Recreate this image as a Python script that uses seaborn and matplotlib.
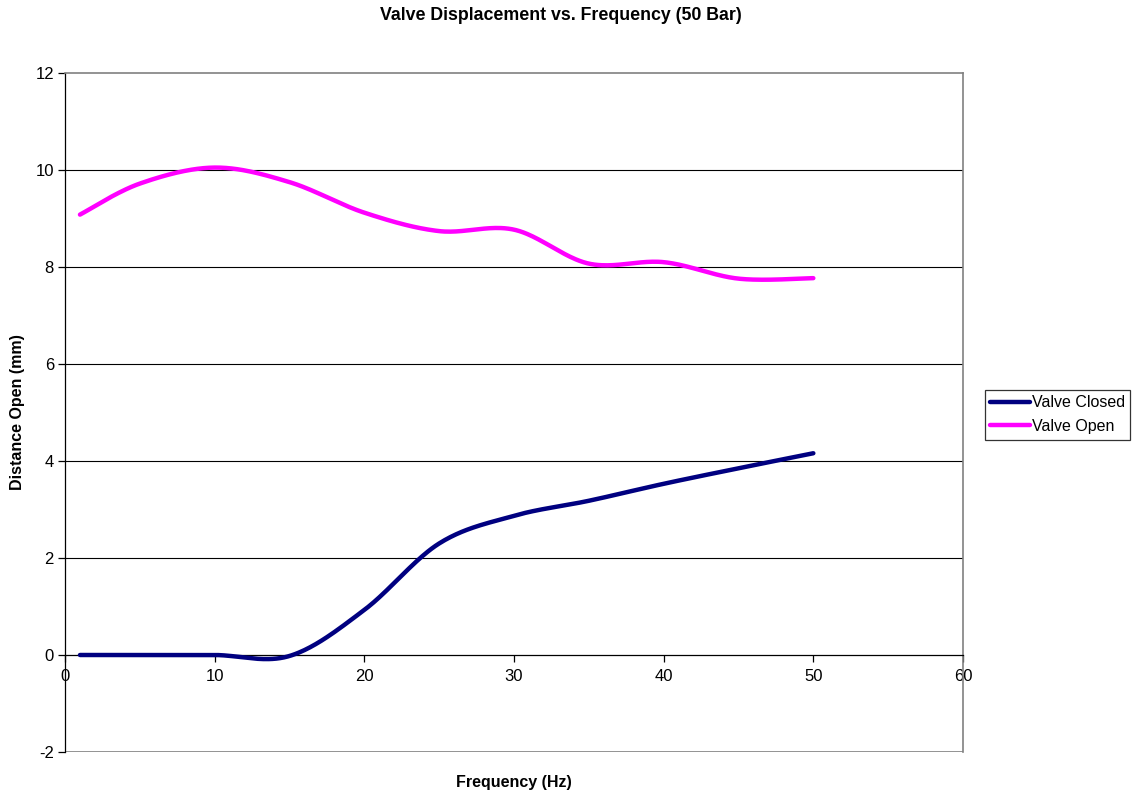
import numpy as np
import pandas as pd
import matplotlib
matplotlib.use("Agg")
import matplotlib.pyplot as plt
import seaborn as sns

freq = [1, 5, 10, 15, 20, 25, 30, 35, 40, 45, 50]
valve_closed = [0.0, 0.0, 0.0, -0.02, 0.93, 2.30, 2.87, 3.18, 3.53, 3.85, 4.16]
valve_open = [9.08, 9.72, 10.05, 9.75, 9.12, 8.74, 8.77, 8.07, 8.10, 7.76, 7.77]
series_names = ["Valve Closed", "Valve Open"]
colors = ["#000080", "#FF00FF"]
x_ticks = [0, 10, 20, 30, 40, 50, 60]
y_ticks = [-2, 0, 2, 4, 6, 8, 10, 12]


def smooth(xs, ys, n=40):
    # Catmull-Rom style smoothing like spreadsheet "smoothed line"
    xs = np.asarray(xs, float); ys = np.asarray(ys, float)
    P = np.column_stack([xs, ys])
    P = np.vstack([P[0], P, P[-1]])
    out = []
    for i in range(1, len(P) - 2):
        p0, p1, p2, p3 = P[i - 1], P[i], P[i + 1], P[i + 2]
        c1 = p1 + (p2 - p0) / 6.0
        c2 = p2 - (p3 - p1) / 6.0
        t = np.linspace(0, 1, n, endpoint=(i == len(P) - 3))[:, None]
        seg = ((1 - t) ** 3) * p1 + 3 * ((1 - t) ** 2) * t * c1 + 3 * (1 - t) * t ** 2 * c2 + t ** 3 * p2
        out.append(seg)
    out = np.vstack(out)
    return out[:, 0], out[:, 1]


frames = []
for name, vals in zip(series_names, [valve_closed, valve_open]):
    sx, sy = smooth(freq, vals)
    frames.append(pd.DataFrame({"Frequency": sx, "Value": sy, "Series": name}))
df = pd.concat(frames, ignore_index=True)

sns.set_theme(style="white")
plt.rcParams["font.family"] = ["Liberation Sans", "DejaVu Sans"]
plt.rcParams["axes.unicode_minus"] = False
plt.rcParams["text.color"] = "black"
plt.rcParams["axes.labelcolor"] = "black"
plt.rcParams["xtick.color"] = "black"
plt.rcParams["ytick.color"] = "black"

fig = plt.figure(figsize=(11.34, 7.96), dpi=100)
ax = fig.add_axes([65 / 1134, 1 - 752 / 796, (963 - 65) / 1134, (752 - 73) / 796])

for y in [2, 4, 6, 8, 10]:
    ax.axhline(y, color="black", lw=0.8, zorder=1)
ax.axhline(-2, color="#808080", lw=1.2, zorder=1)

sns.lineplot(data=df, x="Frequency", y="Value", hue="Series", palette=colors,
             sort=False, estimator=None, units="Series", lw=3.2, ax=ax, zorder=3,
             solid_capstyle="round")

ax.set_xlim(0, 60)
ax.set_ylim(-2, 12)
ax.set_xticks(x_ticks)
ax.set_yticks(y_ticks)
ax.spines["bottom"].set_position(("data", 0))
ax.spines["bottom"].set_color("black")
ax.spines["bottom"].set_linewidth(0.9)
ax.spines["left"].set_color("black")
ax.spines["left"].set_linewidth(0.9)
ax.spines["top"].set_color("#808080")
ax.spines["right"].set_color("#808080")
ax.spines["top"].set_linewidth(1.2)
ax.spines["right"].set_linewidth(1.2)
ax.tick_params(axis="both", which="major", direction="out", length=5, width=0.9,
               color="black", labelcolor="black", labelsize=12, bottom=True, left=True)
ax.tick_params(axis="x", pad=5)
ax.tick_params(axis="y", pad=3)

ax.set_xlabel("Frequency (Hz)", fontsize=11.5, fontweight="bold", color="black")
ax.xaxis.set_label_coords(0.5, -0.0346)
ax.set_ylabel("Distance Open (mm)", fontsize=11.5, fontweight="bold", color="black")
ax.yaxis.set_label_coords(-0.045, 0.5)
fig.text(0.5 * (380 + 741) / 1134, 1 - 15 / 796, "Valve Displacement vs. Frequency (50 Bar)",
         fontsize=12.8, fontweight="bold", ha="center", va="center", color="black")

leg = ax.legend(title=None, loc="center left", bbox_to_anchor=(1.024, 0.497), fontsize=11.5,
                frameon=True, fancybox=False, handlelength=2.5, handletextpad=0.1,
                borderpad=0.35, labelspacing=0.55, borderaxespad=0)
leg.get_frame().set_edgecolor("black")
leg.get_frame().set_linewidth(0.9)
for t in leg.get_texts():
    t.set_color("black")
for h in leg.get_lines():
    h.set_linewidth(3.2)

fig.savefig("out.png", dpi=100)
